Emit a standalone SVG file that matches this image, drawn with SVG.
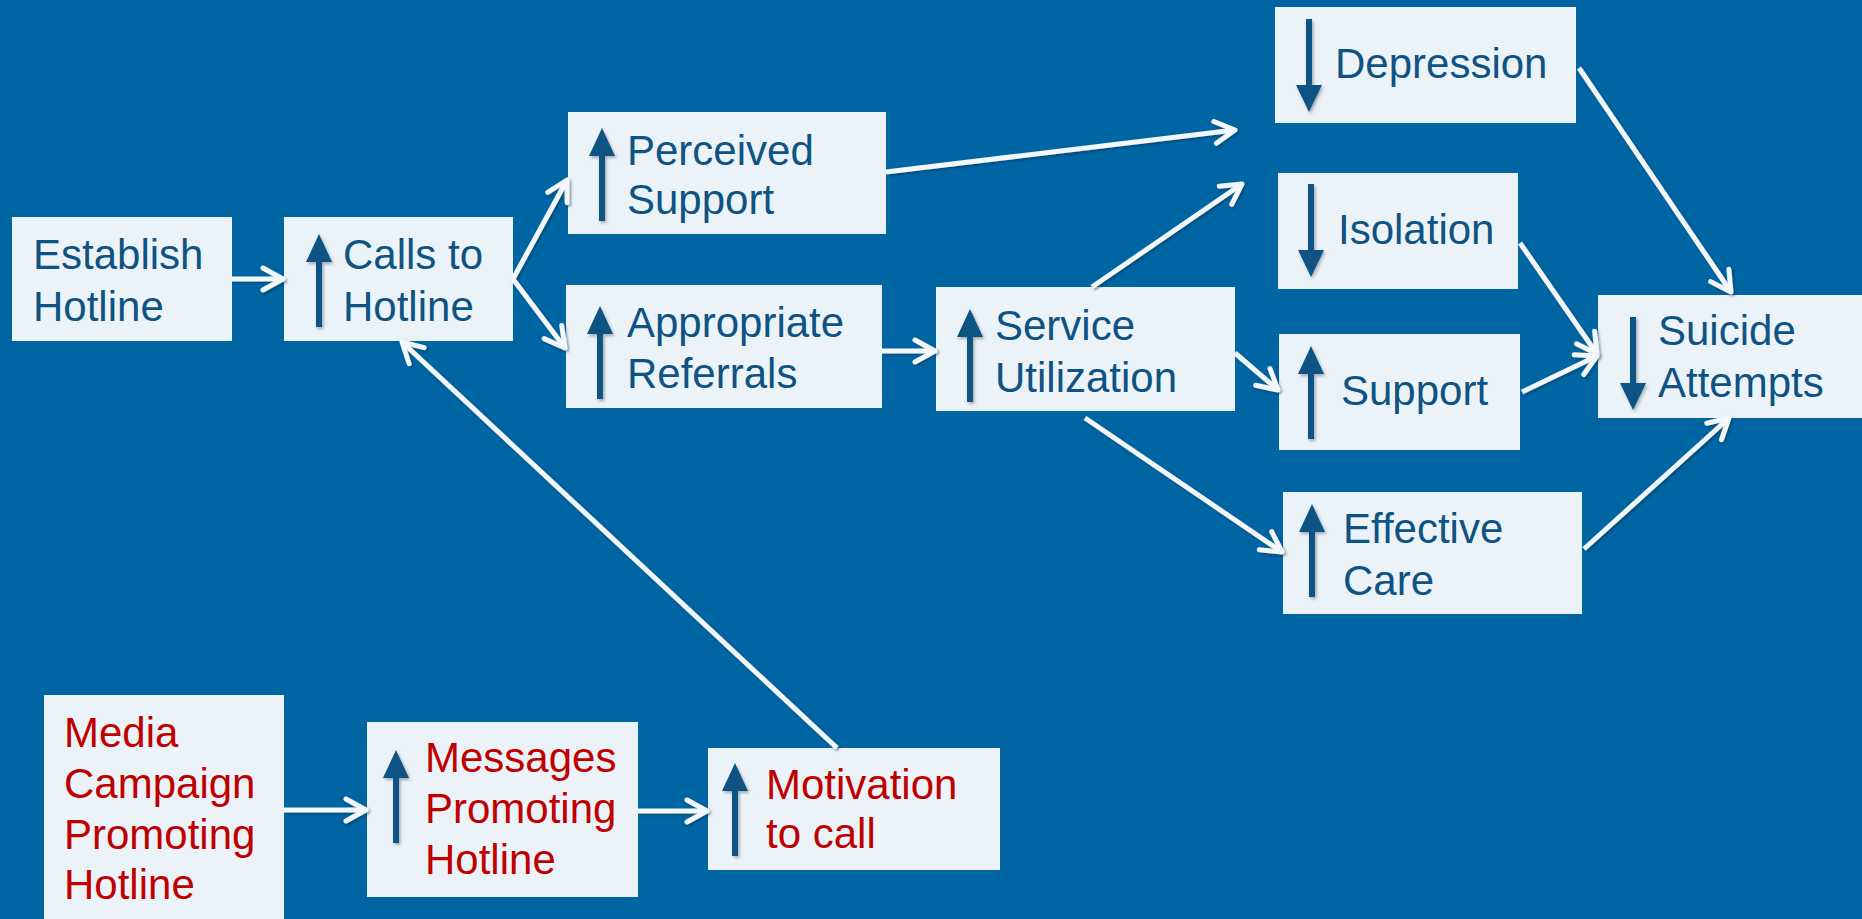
<svg xmlns="http://www.w3.org/2000/svg" width="1862" height="919" viewBox="0 0 1862 919">
  <defs>
    <style>
      .box { fill: #EBF3F8; }
      .lbl { font-family: "Liberation Sans", Arial, sans-serif; font-size: 42px; fill: #0E5384; }
      .red { fill: #C00000; }
      .link { stroke: #F2F7FA; stroke-width: 5; fill: none; marker-end: url(#chev); filter: url(#sh); }
      .ind { fill: #0E5384; filter: url(#ish); }
    </style>
    <marker id="chev" markerUnits="userSpaceOnUse" viewBox="0 0 26 30" refX="23" refY="15" markerWidth="26" markerHeight="30" orient="auto">
      <path d="M3,4 L23,15 L3,26" fill="none" stroke="#F2F7FA" stroke-width="5" stroke-linecap="round" stroke-linejoin="round"/>
    </marker>
    <!-- soft drop shadow for connectors; user-space region so flat lines still render -->
    <filter id="sh" filterUnits="userSpaceOnUse" x="0" y="0" width="1862" height="919">
      <feDropShadow dx="1.5" dy="1.5" stdDeviation="1.2" flood-color="#002a4a" flood-opacity="0.5"/>
    </filter>
    <filter id="ish" x="-60%" y="-20%" width="220%" height="140%">
      <feDropShadow dx="1.5" dy="2" stdDeviation="1.5" flood-color="#000000" flood-opacity="0.3"/>
    </filter>
    <!-- up / down indicator arrows, drawn from the top of the shape -->
    <path id="up" d="M-3,28 L-13,28 L0,0 L13,28 L3,28 L3,93 L-3,93 Z"/>
    <path id="down" d="M-3,0 L3,0 L3,66 L13,66 L0,93 L-13,66 L-3,66 Z"/>
  </defs>

  <rect width="1862" height="919" fill="#0065A3"/>

  <g id="establish-hotline">
    <rect class="box" x="12" y="217" width="220" height="124"/>
    <text class="lbl" x="33" y="269">Establish</text>
    <text class="lbl" x="33" y="321">Hotline</text>
  </g>

  <g id="calls-to-hotline">
    <rect class="box" x="284" y="217" width="229" height="124"/>
    <use href="#up" class="ind" x="319" y="234"/>
    <text class="lbl" x="343" y="269">Calls to</text>
    <text class="lbl" x="343" y="321">Hotline</text>
  </g>

  <g id="perceived-support">
    <rect class="box" x="568" y="112" width="318" height="122"/>
    <use href="#up" class="ind" x="602" y="128"/>
    <text class="lbl" x="627" y="165">Perceived</text>
    <text class="lbl" x="627" y="214">Support</text>
  </g>

  <g id="appropriate-referrals">
    <rect class="box" x="566" y="285" width="316" height="123"/>
    <use href="#up" class="ind" x="600" y="306"/>
    <text class="lbl" x="627" y="337">Appropriate</text>
    <text class="lbl" x="627" y="388">Referrals</text>
  </g>

  <g id="service-utilization">
    <rect class="box" x="936" y="287" width="299" height="124"/>
    <use href="#up" class="ind" x="970" y="309"/>
    <text class="lbl" x="995" y="340">Service</text>
    <text class="lbl" x="995" y="392">Utilization</text>
  </g>

  <g id="depression">
    <rect class="box" x="1275" y="7" width="301" height="116"/>
    <use href="#down" class="ind" x="1309" y="19"/>
    <text class="lbl" x="1335" y="78">Depression</text>
  </g>

  <g id="isolation">
    <rect class="box" x="1278" y="173" width="240" height="116"/>
    <use href="#down" class="ind" x="1311" y="184"/>
    <text class="lbl" x="1338" y="244">Isolation</text>
  </g>

  <g id="support">
    <rect class="box" x="1279" y="334" width="241" height="116"/>
    <use href="#up" class="ind" x="1311" y="346"/>
    <text class="lbl" x="1341" y="405">Support</text>
  </g>

  <g id="effective-care">
    <rect class="box" x="1283" y="492" width="299" height="122"/>
    <use href="#up" class="ind" x="1312" y="504"/>
    <text class="lbl" x="1343" y="543">Effective</text>
    <text class="lbl" x="1343" y="595">Care</text>
  </g>

  <g id="suicide-attempts">
    <rect class="box" x="1598" y="295" width="264" height="123"/>
    <use href="#down" class="ind" x="1633" y="317"/>
    <text class="lbl" x="1658" y="345">Suicide</text>
    <text class="lbl" x="1658" y="397">Attempts</text>
  </g>

  <g id="media-campaign">
    <rect class="box" x="44" y="695" width="240" height="224"/>
    <text class="lbl red" x="64" y="747">Media</text>
    <text class="lbl red" x="64" y="798">Campaign</text>
    <text class="lbl red" x="64" y="849">Promoting</text>
    <text class="lbl red" x="64" y="899">Hotline</text>
  </g>

  <g id="messages-promoting">
    <rect class="box" x="367" y="722" width="271" height="175"/>
    <use href="#up" class="ind" x="396" y="750"/>
    <text class="lbl red" x="425" y="772">Messages</text>
    <text class="lbl red" x="425" y="823">Promoting</text>
    <text class="lbl red" x="425" y="874">Hotline</text>
  </g>

  <g id="motivation-to-call">
    <rect class="box" x="708" y="748" width="292" height="122"/>
    <use href="#up" class="ind" x="735" y="763"/>
    <text class="lbl red" x="766" y="799">Motivation</text>
    <text class="lbl red" x="766" y="848">to call</text>
  </g>

  <g id="connectors">
    <line class="link" x1="232" y1="279" x2="283" y2="279"/>
    <line class="link" x1="513" y1="279" x2="567" y2="180"/>
    <line class="link" x1="513" y1="279" x2="565" y2="348"/>
    <line class="link" x1="882" y1="351" x2="935" y2="351"/>
    <line class="link" x1="886" y1="172" x2="1235" y2="130"/>
    <line class="link" x1="1092" y1="287" x2="1242" y2="184"/>
    <line class="link" x1="1235" y1="353" x2="1278" y2="390"/>
    <line class="link" x1="1085" y1="418" x2="1282" y2="552"/>
    <line class="link" x1="1579" y1="68" x2="1731" y2="292"/>
    <line class="link" x1="1520" y1="243" x2="1597" y2="354"/>
    <line class="link" x1="1522" y1="392" x2="1597" y2="356"/>
    <line class="link" x1="1584" y1="549" x2="1729" y2="418"/>
    <line class="link" x1="284" y1="810" x2="366" y2="810"/>
    <line class="link" x1="638" y1="811" x2="707" y2="811"/>
    <line class="link" x1="837" y1="748" x2="402" y2="342"/>
  </g>
</svg>
